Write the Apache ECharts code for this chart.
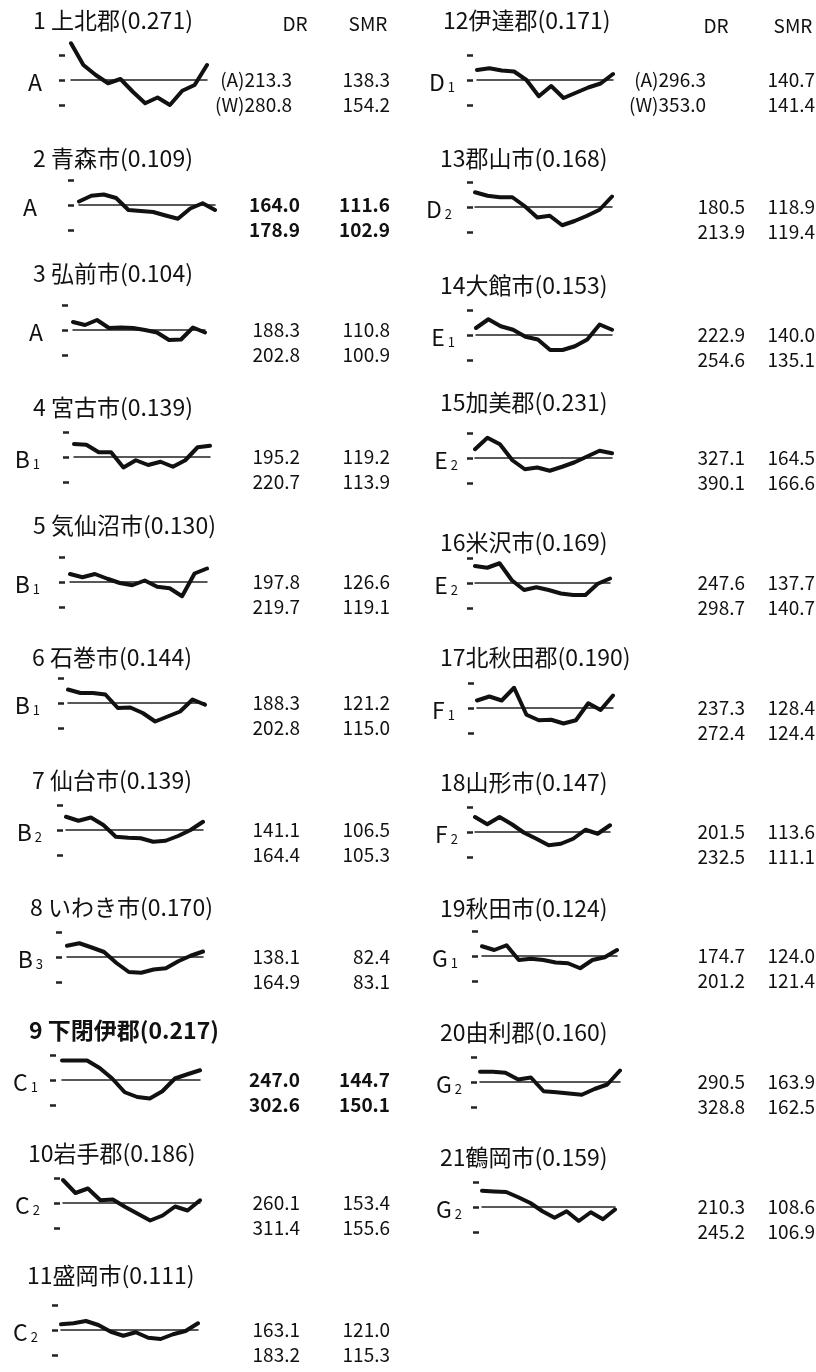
<!DOCTYPE html>
<html><head><meta charset="utf-8">
<script src="https://cdn.jsdelivr.net/npm/echarts@6/dist/echarts.min.js"></script>
<style>html,body{margin:0;padding:0;background:#fff}#c{width:816px;height:1372px}</style>
</head><body><div id="c"></div>
<script>
// ---------- data ----------
const months = ['1','2','3','4','5','6','7','8','9','10','11','12'];
const regionNo = ['1 ','2 ','3 ','4 ','5 ','6 ','7 ','8 ','9 ','10','11','12','13','14','15','16','17','18','19','20','21'];
const regionNames = ['上北郡','青森市','弘前市','宮古市','気仙沼市','石巻市','仙台市','いわき市','下閉伊郡','岩手郡','盛岡市',
  '伊達郡','郡山市','大館市','加美郡','米沢市','北秋田郡','山形市','秋田市','由利郡','鶴岡市'];
const seasonIndex = ['0.271','0.109','0.104','0.139','0.130','0.144','0.139','0.170','0.217','0.186','0.111',
  '0.171','0.168','0.153','0.231','0.169','0.190','0.147','0.124','0.160','0.159'];
const classLetter = ['A','A','A','B','B','B','B','B','C','C','C','D','D','E','E','E','F','F','G','G','G'];
const classSub    = ['','','','1','1','1','2','3','1','2','2','1','2','1','2','2','1','2','1','2','2'];
const drA  = [213.3,164.0,188.3,195.2,197.8,188.3,141.1,138.1,247.0,260.1,163.1,296.3,180.5,222.9,327.1,247.6,237.3,201.5,174.7,290.5,210.3];
const drW  = [280.8,178.9,202.8,220.7,219.7,202.8,164.4,164.9,302.6,311.4,183.2,353.0,213.9,254.6,390.1,298.7,272.4,232.5,201.2,328.8,245.2];
const smrA = [138.3,111.6,110.8,119.2,126.6,121.2,106.5,82.4,144.7,153.4,121.0,140.7,118.9,140.0,164.5,137.7,128.4,113.6,124.0,163.9,108.6];
const smrW = [154.2,102.9,100.9,113.9,119.1,115.0,105.3,83.1,150.1,155.6,115.3,141.4,119.4,135.1,166.6,140.7,124.4,111.1,121.4,162.5,106.9];
const rowTags = ['(A)','(W)'];
const headers = ['DR','SMR'];
// monthly deviation curves (tick = 1 unit)
const curves = [
  [1.47,0.6,0.2,-0.13,0.04,-0.47,-0.93,-0.7,-1.0,-0.43,-0.2,0.6],
  [0.14,0.37,0.42,0.28,-0.2,-0.24,-0.28,-0.42,-0.55,-0.14,0.07,-0.2],
  [0.32,0.2,0.4,0.08,0.1,0.08,0.0,-0.1,-0.4,-0.38,0.1,-0.1],
  [0.52,0.49,0.19,0.19,-0.42,-0.13,-0.32,-0.19,-0.39,-0.13,0.39,0.45],
  [0.32,0.19,0.32,0.13,-0.04,-0.13,0.06,-0.19,-0.25,-0.57,0.34,0.54],
  [0.54,0.4,0.4,0.34,-0.2,-0.18,-0.4,-0.74,-0.54,-0.34,0.14,-0.07],
  [0.53,0.37,0.5,0.2,-0.27,-0.31,-0.33,-0.47,-0.43,-0.24,0.0,0.33],
  [0.45,0.55,0.38,0.2,-0.24,-0.6,-0.63,-0.5,-0.45,-0.17,0.05,0.22],
  [0.78,0.78,0.78,0.48,0.06,-0.49,-0.68,-0.74,-0.45,0.06,0.23,0.39],
  [0.92,0.4,0.58,0.11,0.14,-0.16,-0.43,-0.7,-0.5,-0.14,-0.3,0.11],
  [0.23,0.27,0.36,0.2,-0.07,-0.23,-0.09,-0.31,-0.36,-0.17,-0.04,0.27],
  [0.4,0.47,0.38,0.34,0.0,-0.65,-0.24,-0.72,-0.51,-0.3,-0.14,0.24],
  [0.59,0.45,0.39,0.39,0.03,-0.42,-0.35,-0.73,-0.56,-0.35,-0.11,0.42],
  [0.28,0.63,0.35,0.21,-0.07,-0.18,-0.6,-0.6,-0.45,-0.18,0.42,0.21],
  [0.35,0.81,0.55,-0.09,-0.45,-0.38,-0.51,-0.35,-0.17,0.06,0.29,0.19],
  [0.68,0.61,0.79,0.11,-0.28,-0.17,-0.28,-0.42,-0.48,-0.48,-0.03,0.18],
  [0.3,0.46,0.3,0.81,-0.27,-0.49,-0.47,-0.62,-0.49,0.19,-0.08,0.5],
  [0.6,0.31,0.6,0.31,-0.03,-0.27,-0.53,-0.47,-0.27,0.09,-0.07,0.27],
  [0.39,0.24,0.43,-0.16,-0.11,-0.16,-0.26,-0.29,-0.49,-0.16,-0.05,0.24],
  [0.41,0.41,0.37,0.1,0.18,-0.37,-0.41,-0.46,-0.51,-0.28,-0.1,0.46],
  [0.65,0.62,0.6,0.39,0.16,-0.17,-0.43,-0.17,-0.56,-0.21,-0.49,-0.1]
];

// ---------- layout (pixels) ----------
// [titleX, titleY, midY, tickX, baseStart, baseEnd, labelRight]
const layout = [
  [33,20,80,65,71,207,42],[33,158,205,74,79,215,37],[33,273,330,68,73,205,43],
  [33,407,457,69,74,210,40],[33,525,582,65,70,207,40],[32,657,703,64,68,205,40],
  [32,780,830,63,66,203,42],[30,907,957,62,67,203,43],[29,1030,1080,56,62,200,38],
  [28,1153,1203,60,63,200,40],[27,1275,1330,58,61,198,38],
  [443,20,80,473,477,613,455],[440,158,207,473,475,612,452],[440,285,335,473,476,612,455],
  [440,402,458,473,475,612,458],[440,542,583,473,475,610,458],[440,657,708,474,477,613,455],
  [440,782,832,473,475,610,458],[440,908,956,478,482,617,458],[440,1032,1082,477,480,620,462],
  [440,1157,1207,479,482,615,462]
];
const UNIT = 25;
const FONT = '"Noto Sans CJK JP","Noto Sans",sans-serif';

const grids=[], xAxes=[], yAxes=[], series=[], graphics=[];
function txt(x,y,text,size,align,weight){
  graphics.push({type:'text',x:x,y:y,silent:true,style:{text:text,fill:'#111',
    font:(weight||'normal')+' '+size+'px '+FONT,align:align||'left',verticalAlign:'middle',
    textAlign:align||'left',textVerticalAlign:'middle'}});
}
regionNames.forEach((name,i)=>{
  const [tx,ty,my,tickX,b0,b1,lr] = layout[i];
  const right = i>=11;
  grids.push({left:b0,top:my-UNIT,width:b1-b0,height:UNIT*2,containLabel:false});
  xAxes.push({type:'category',gridIndex:i,data:months,boundaryGap:false,
    axisLine:{show:true,onZero:true,lineStyle:{color:'#222',width:1.5}},
    axisTick:{show:false},axisLabel:{show:false},splitLine:{show:false}});
  yAxes.push({type:'value',gridIndex:i,min:-1,max:1,interval:1,offset:b0-tickX,
    axisLine:{show:false},
    axisTick:{show:true,length:6,lineStyle:{color:'#222',width:2.5}},
    splitLine:{show:false},
    axisLabel:{show:true,margin:tickX-lr,
      formatter:v=> v===0 ? '{m|'+classLetter[i]+'}'+(classSub[i]?'{s|'+classSub[i]+'}':'') : '',
      rich:{m:{fontFamily:FONT,fontSize:23,color:'#111',lineHeight:28,verticalAlign:'bottom'},
            s:{fontFamily:FONT,fontSize:13,color:'#111',lineHeight:26,verticalAlign:'bottom',padding:[0,0,0,3]}}}});
  series.push({type:'line',xAxisIndex:i,yAxisIndex:i,data:curves[i],symbol:'none',clip:false,silent:true,
    lineStyle:{color:'#111',width:4,join:'round',cap:'round'}});
  const bold = (i===1||i===8)?'bold':'normal';
  txt(tx,ty,regionNo[i]+name+'('+seasonIndex[i]+')',23,'left',i===8?'bold':'normal');
  const drX = right ? (i===11?706:745) : (i===0?292:300);
  const smX = right ? 815 : 390;
  const first = (i===0||i===11);
  txt(drX,my,(first?rowTags[0]:'')+drA[i].toFixed(1),19,'right',bold);
  txt(drX,my+25,(first?rowTags[1]:'')+drW[i].toFixed(1),19,'right',bold);
  txt(smX,my,smrA[i].toFixed(1),19,'right',bold);
  txt(smX,my+25,smrW[i].toFixed(1),19,'right',bold);
});
txt(295,24,headers[0],19,'center');
txt(368,24,headers[1],19,'center');
txt(716,26,headers[0],19,'center');
txt(793,26,headers[1],19,'center');

const chart = echarts.init(document.getElementById('c'),null,{renderer:'canvas',width:816,height:1372});
chart.setOption({animation:false,backgroundColor:'#fff',grid:grids,xAxis:xAxes,yAxis:yAxes,series:series,graphic:graphics});
</script></body></html>
